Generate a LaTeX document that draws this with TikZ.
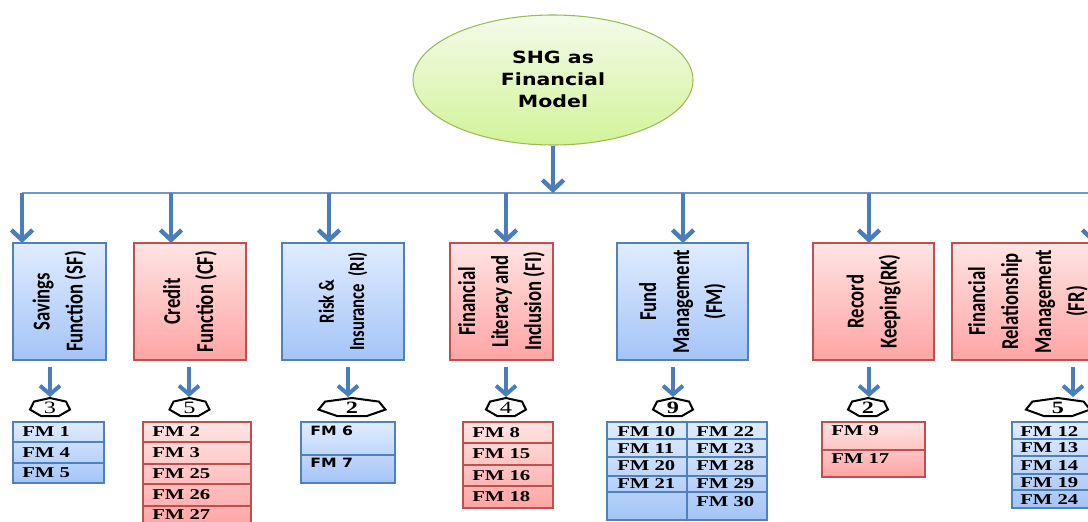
\documentclass[tikz,border=0pt]{standalone}
\usepackage{fontspec}
\usepackage{graphicx}
\usetikzlibrary{arrows.meta,fit,shapes.geometric}
\newfontfamily\boxfont{Carlito}
\newfontfamily\titlefont{DejaVu Sans}
\newfontfamily\listserif{Liberation Serif}
\definecolor{arrowblue}{RGB}{74,126,187}
\definecolor{lineblue}{RGB}{110,152,206}
\definecolor{bluetop}{RGB}{224,236,254}
\definecolor{bluebot}{RGB}{164,196,247}
\definecolor{blueedge}{RGB}{79,129,189}
\definecolor{redtop}{RGB}{255,228,228}
\definecolor{redbot}{RGB}{255,164,164}
\definecolor{rededge}{RGB}{192,80,77}
\definecolor{greentop}{RGB}{243,251,234}
\definecolor{greenbot}{RGB}{210,243,152}
\definecolor{greenedge}{RGB}{155,187,89}
\newcommand\boxlabel[3]{\scalebox{1}[1.3]{\boxfont\bfseries\fontsize{#1}{#2}\selectfont\begin{tabular}{@{}c@{}}#3\end{tabular}}}
\newcommand\fmtext[1]{\scalebox{1.38}[1]{\listserif\bfseries\fontsize{11.25pt}{13pt}\selectfont #1}}
\newcommand\fmsans[1]{\scalebox{1.23}[1]{\titlefont\bfseries\fontsize{9.6pt}{11pt}\selectfont #1}}
\newcommand\numtext[1]{\scalebox{1.4}[1]{\listserif\fontsize{13pt}{15pt}\selectfont #1}}
\newcommand\numbold[1]{\scalebox{1.4}[1]{\listserif\bfseries\fontsize{13pt}{15pt}\selectfont #1}}
\newcommand\heptshape[4]{\draw[hept, shift={(#1,#2)}, xscale=#3, yscale=#4] (0,-1) -- (-0.802,-0.603) -- (-1,0.287) -- (-0.445,1) -- (0.445,1) -- (1,0.287) -- (0.802,-0.603) -- cycle;}
\begin{document}
\begin{tikzpicture}[x=0.75pt,y=-0.75pt,
  bluebox/.style={draw=blueedge, line width=1.1pt, top color=bluetop, bottom color=bluebot, inner sep=0pt},
  redbox/.style={draw=rededge, line width=1.1pt, top color=redtop, bottom color=redbot, inner sep=0pt},
  bigarrow/.style={draw=arrowblue, line width=3.3pt, -{Straight Barb[length=7.5pt,width=16pt]}},
  smallarrow/.style={draw=arrowblue, line width=3pt, shorten <=5pt, -{Straight Barb[length=6.5pt,width=15pt]}},
  busline/.style={draw=lineblue, line width=1.5pt},
  hept/.style={draw=black, line width=1.5pt, fill=white},
  bsep/.style={draw=blueedge, line width=1pt},
  rsep/.style={draw=rededge, line width=1pt},
  cell/.style={anchor=west, inner sep=0pt},
  bcell/.style={anchor=base west, inner sep=0pt},
  vlabel/.style={rotate=90, inner sep=0pt}]
\useasboundingbox (0,0) rectangle (1088,521);
\clip (0,0) rectangle (1088,521);

% root
\node[ellipse, draw=greenedge, line width=0.8pt, top color=greentop, bottom color=greenbot,
      minimum width=210pt, minimum height=97.5pt, inner sep=0pt] (root) at (553,80) {};
\node[inner sep=0pt] (roott) at (553,81) {\scalebox{1.22}[1]{\titlefont\bfseries\fontsize{12.6pt}{16.5pt}\selectfont\begin{tabular}{@{}c@{}}SHG as\\Financial\\Model\end{tabular}}};

% bus
\coordinate (bus) at (553,193);
\coordinate (busend) at (1088,193);
\coordinate (t1) at (22,243);
\coordinate (t2) at (171,243);
\coordinate (t3) at (329,243);
\coordinate (t4) at (506,243);
\coordinate (t5) at (683,243);
\coordinate (t6) at (869,243);
\coordinate (t7) at (1093,243);
\draw[busline] (t1 |- bus) -- (busend);
\draw[bigarrow] (root.south) -- (bus);
\foreach \t in {t1,t2,t3,t4,t5,t6,t7} \draw[bigarrow] (\t |- bus) -- (\t);

% category boxes
\node[bluebox, fit={(13,243) (106,360)}] (sf) {};
\node[redbox, fit={(134,243) (246,360)}] (cf) {};
\node[bluebox, fit={(282,243) (404,360)}] (ri) {};
\node[redbox, fit={(450,243) (553,360)}] (fi) {};
\node[bluebox, fit={(617,243) (748,360)}] (fm) {};
\node[redbox, fit={(813,243) (934,360)}] (rk) {};
\node[redbox, fit={(952,243) (1104,360)}] (fr) {};

\node[vlabel] (sft) at (sf.center) {\boxlabel{14pt}{19pt}{Savings\\Function (SF)}};
\node[vlabel] (cft) at (cf.center) {\boxlabel{14pt}{19pt}{Credit\\Function (CF)}};
\node[vlabel] (rit) at (ri.center) {\boxlabel{12.5pt}{17.5pt}{Risk \&\\Insurance\ \ (RI)}};
\node[vlabel] (fit) at (fi.center) {\boxlabel{14pt}{19pt}{Financial\\Literacy\,and\\Inclusion (FI)}};
\node[vlabel] (fmt) at (fm.center) {\boxlabel{14pt}{19pt}{Fund\\Management\\(FM)}};
\node[vlabel] (rkt) at (rk.center) {\boxlabel{14pt}{19pt}{Record\\Keeping(RK)}};
\node[vlabel] (frt) at (fr.center) {\boxlabel{14pt}{19pt}{Financial\\Relationship\\Management\\(FR)}};

% count badges
\heptshape{50}{407}{20}{9}
\heptshape{189.5}{407}{20}{9}
\heptshape{352}{407}{33.5}{9}
\heptshape{506}{407}{20}{9}
\heptshape{673}{407}{20}{9}
\heptshape{868}{407}{20}{9}
\heptshape{1058}{407}{32}{9}
\node[inner sep=0pt] (n1) at (50,408) {\numtext{3}};
\node[inner sep=0pt] (n2) at (189.5,408) {\numtext{5}};
\node[inner sep=0pt] (n3) at (352,408) {\numbold{2}};
\node[inner sep=0pt] (n4) at (506,408) {\numtext{4}};
\node[inner sep=0pt] (n5) at (673,408) {\numbold{9}};
\node[inner sep=0pt] (n6) at (868,408) {\numbold{2}};
\node[inner sep=0pt] (n7) at (1058,408) {\numbold{5}};

\coordinate (a1) at (50,397);
\coordinate (a2) at (189,397);
\coordinate (a3) at (348,397);
\coordinate (a4) at (506,397);
\coordinate (a5) at (673,397);
\coordinate (a6) at (869,397);
\coordinate (a7) at (1073,397);
\draw[smallarrow] (sf.south -| a1) -- (a1);
\draw[smallarrow] (cf.south -| a2) -- (a2);
\draw[smallarrow] (ri.south -| a3) -- (a3);
\draw[smallarrow] (fi.south -| a4) -- (a4);
\draw[smallarrow] (fm.south -| a5) -- (a5);
\draw[smallarrow] (rk.south -| a6) -- (a6);
\draw[smallarrow] (fr.south -| a7) -- (a7);

% SF list
\node[bluebox, fit={(13,422) (104,483)}] (sfl) {};
\foreach \y in {442,463} \draw[bsep] (13,\y) -- (104,\y);
\node[cell] (sf1) at (22,432) {\fmtext{FM 1}};
\node[cell] (sf2) at (22,452.5) {\fmtext{FM 4}};
\node[cell] (sf3) at (22,473) {\fmtext{FM 5}};

% CF list
\node[redbox, fit={(143,422) (251,528)}] (cfl) {};
\foreach \y in {442,464,484,506} \draw[rsep] (143,\y) -- (251,\y);
\node[cell] (cf1) at (152,432) {\fmtext{FM 2}};
\node[cell] (cf2) at (152,453) {\fmtext{FM 3}};
\node[cell] (cf3) at (152,474) {\fmtext{FM 25}};
\node[cell] (cf4) at (152,495) {\fmtext{FM 26}};
\node[cell] (cf5) at (152,515) {\fmtext{FM 27}};

% RI list
\node[bluebox, fit={(301,422) (395,483)}] (ril) {};
\draw[bsep] (301,455) -- (395,455);
\node[bcell] (ri1) at (310,435) {\fmsans{FM 6}};
\node[bcell] (ri2) at (310,467) {\fmsans{FM 7}};

% FI list
\node[redbox, fit={(463,422) (553,508)}] (fil) {};
\foreach \y in {443,465,486} \draw[rsep] (463,\y) -- (553,\y);
\node[cell] (fi1) at (472,432.5) {\fmtext{FM 8}};
\node[cell] (fi2) at (472,454) {\fmtext{FM 15}};
\node[cell] (fi3) at (472,475.5) {\fmtext{FM 16}};
\node[cell] (fi4) at (472,497) {\fmtext{FM 18}};

% FM list
\node[bluebox, fit={(607,422) (767,520)}] (fml) {};
\foreach \y in {439,457,476,492} \draw[bsep] (607,\y) -- (767,\y);
\draw[bsep] (687,422) -- (687,520);
\node[cell] (fm1) at (617,432) {\fmtext{FM 10}};
\node[cell] (fm2) at (617,448.5) {\fmtext{FM 11}};
\node[cell] (fm3) at (617,466) {\fmtext{FM 20}};
\node[cell] (fm4) at (617,483.5) {\fmtext{FM 21}};
\node[cell] (fm5) at (696,432) {\fmtext{FM 22}};
\node[cell] (fm6) at (696,448.5) {\fmtext{FM 23}};
\node[cell] (fm7) at (696,466) {\fmtext{FM 28}};
\node[cell] (fm8) at (696,483.5) {\fmtext{FM 29}};
\node[cell] (fm9) at (696,501.5) {\fmtext{FM 30}};

% RK list
\node[redbox, fit={(822,422) (925,477)}] (rkl) {};
\draw[rsep] (822,450) -- (925,450);
\node[bcell] (rk1) at (831,435) {\fmtext{FM 9}};
\node[bcell] (rk2) at (831,463) {\fmtext{FM 17}};

% FR list
\node[bluebox, fit={(1012,422) (1095,508)}] (frl) {};
\foreach \y in {439,456,474,490} \draw[bsep] (1012,\y) -- (1095,\y);
\node[cell] (fr1) at (1020,432) {\fmtext{FM 12}};
\node[cell] (fr2) at (1020,448) {\fmtext{FM 13}};
\node[cell] (fr3) at (1020,466) {\fmtext{FM 14}};
\node[cell] (fr4) at (1020,483) {\fmtext{FM 19}};
\node[cell] (fr5) at (1020,500) {\fmtext{FM 24}};
\end{tikzpicture}
\end{document}
